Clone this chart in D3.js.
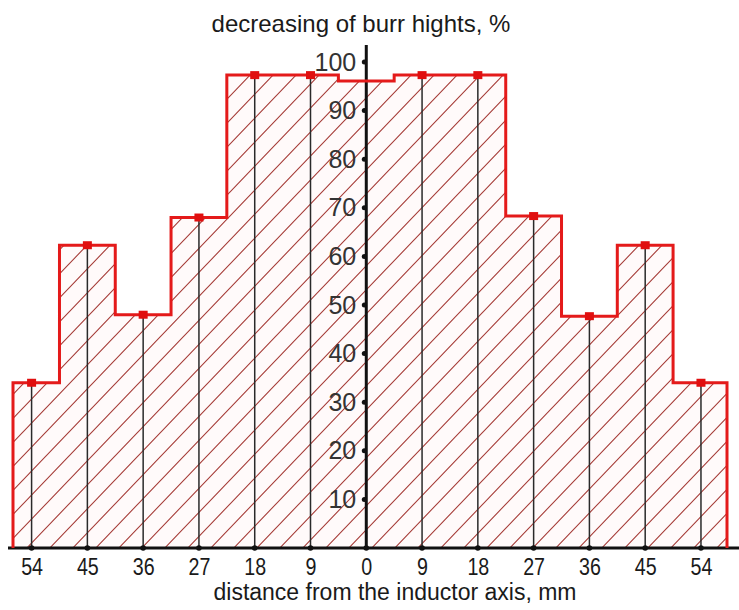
<!DOCTYPE html>
<html>
<head>
<meta charset="utf-8">
<script src="https://cdn.jsdelivr.net/npm/d3@7"></script>
<style>
    body { margin: 0; background: #ffffff; }
    text { font-family: "Liberation Sans", Arial, sans-serif; fill: #1a1a1a; }
</style>
</head>
<body>
<div id="chart"></div>
<script>
///////////////////////////////////////////////////////////////////////////////////////////////////

// distance from the inductor axis, mm (signed, left side negative)
const distances = [-54, -45, -36, -27, -18, -9, 0, 9, 18, 27, 36, 45, 54];
// decreasing of burr heights, %
const decrease  = [34, 62.3, 48, 68, 97.3, 97.3, 96.1, 97.3, 97.3, 68.3, 47.7, 62.3, 34];
const y_ticks   = [10, 20, 30, 40, 50, 60, 70, 80, 90, 100];
const x_extent  = [-57, 58.2];   // outer edges of the first and last step
const title_text  = "decreasing of burr hights, %";
const x_axis_text = "distance from the inductor axis, mm";

///////////////////////////////////////////////////////////////////////////////////////////////////

function d3_step_hatch(element_id) {

    var svg_width = 739, svg_height = 610;

    var svg = d3.select('#' + element_id)
      .append("svg")
        .attr("width",  svg_width)
        .attr("height", svg_height);

    var x = d3.scaleLinear()
        .domain(x_extent)
        .range([13, 727]);

    var y = d3.scaleLinear()
        .domain([0, 100])
        .range([548, 62]);

    // hatch pattern "/" lines
    var pat = svg.append("defs").append("pattern")
        .attr("id", "hatch")
        .attr("patternUnits", "userSpaceOnUse")
        .attr("width", 23)
        .attr("height", 24);
    pat.append("rect")
        .attr("width", 23).attr("height", 24)
        .attr("fill", "#fffafa");
    pat.append("path")
        .attr("d", "M0,24 L23,0 M-5,5.2 L5,-5.2 M18,29.2 L28,18.8")
        .attr("stroke", "#a53a36")
        .attr("stroke-width", 1.1)
        .attr("fill", "none");

    // step outline points from the data
    let half = (distances[1] - distances[0]) / 2;
    let pts = [[x(x_extent[0]), y(0)]];
    distances.forEach(function(d, i) {
        let left  = (i === 0) ? x_extent[0] : d - half;
        let right = (i === distances.length - 1) ? x_extent[1] : d + half;
        pts.push([x(left), y(decrease[i])]);
        pts.push([x(right), y(decrease[i])]);
    });
    pts.push([x(x_extent[1]), y(0)]);

    var line = d3.line();

    svg.append("path")
        .attr("d", line(pts) + "Z")
        .attr("fill", "url(#hatch)")
        .attr("stroke", "none");

    // vertical black lines from the top of each step down to the axis
    svg.selectAll(".drop")
        .data(distances.map(function(d, i) { return { d: d, v: decrease[i] }; })
            .filter(function(p) { return p.d !== 0; }))
        .join("line")
            .attr("class", "drop")
            .attr("x1", function(p) { return x(p.d); })
            .attr("x2", function(p) { return x(p.d); })
            .attr("y1", function(p) { return y(p.v); })
            .attr("y2", y(0))
            .attr("stroke", "#2a2a2a")
            .attr("stroke-width", 1.5);

    // x axis
    var x_axis = svg.append("g")
        .attr("transform", "translate(0," + y(0) + ")")
        .call(d3.axisBottom(x)
            .tickValues(distances)
            .tickFormat(function(d) { return Math.abs(d); })
            .tickSize(0)
            .tickPadding(10));
    x_axis.select(".domain").remove();
    x_axis.selectAll("text")
        .style("font-size", "24px")
        .attr("transform", "scale(0.82,1)");

    svg.append("line")
        .attr("x1", 8).attr("x2", svg_width)
        .attr("y1", y(0)).attr("y2", y(0))
        .attr("stroke", "#111")
        .attr("stroke-width", 3);

    svg.selectAll(".xdot")
        .data(distances)
        .join("circle")
            .attr("class", "xdot")
            .attr("cx", function(d) { return x(d); })
            .attr("cy", y(0))
            .attr("r", 2.8)
            .attr("fill", "#111");

    // y axis
    var y_axis = svg.append("g")
        .attr("transform", "translate(" + x(0) + ",0)")
        .call(d3.axisLeft(y)
            .tickValues(y_ticks)
            .tickSize(0)
            .tickPadding(10));
    y_axis.select(".domain").remove();
    y_axis.selectAll("text")
        .style("font-size", "25px")
        .style("fill", "#333");

    svg.append("line")
        .attr("x1", x(0)).attr("x2", x(0))
        .attr("y1", y(0)).attr("y2", 45)
        .attr("stroke", "#111")
        .attr("stroke-width", 3);

    svg.selectAll(".ydot")
        .data(y_ticks)
        .join("circle")
            .attr("class", "ydot")
            .attr("cx", x(0) - 2)
            .attr("cy", function(d) { return y(d); })
            .attr("r", 2.5)
            .attr("fill", "#111");

    // red step outline
    svg.append("path")
        .attr("d", line(pts))
        .attr("fill", "none")
        .attr("stroke", "#e41a1a")
        .attr("stroke-width", 3);

    // red square markers
    svg.selectAll(".mark")
        .data(distances.map(function(d, i) { return { d: d, v: decrease[i] }; })
            .filter(function(p) { return p.d !== 0; }))
        .join("rect")
            .attr("class", "mark")
            .attr("x", function(p) { return x(p.d) - 4.5; })
            .attr("y", function(p) { return y(p.v) - 4; })
            .attr("width", 9)
            .attr("height", 8)
            .attr("fill", "#e00f0f");

    // titles
    svg.append("text")
        .attr("x", 361)
        .attr("y", 32)
        .style("text-anchor", "middle")
        .style("font-size", "24px")
        .text(title_text);

    svg.append("text")
        .attr("x", 395)
        .attr("y", 600)
        .style("text-anchor", "middle")
        .style("font-size", "23px")
        .text(x_axis_text);

} // end function

///////////////////////////////////////////////////////////////////////////////////////////////////

d3_step_hatch("chart");
</script>
</body>
</html>
